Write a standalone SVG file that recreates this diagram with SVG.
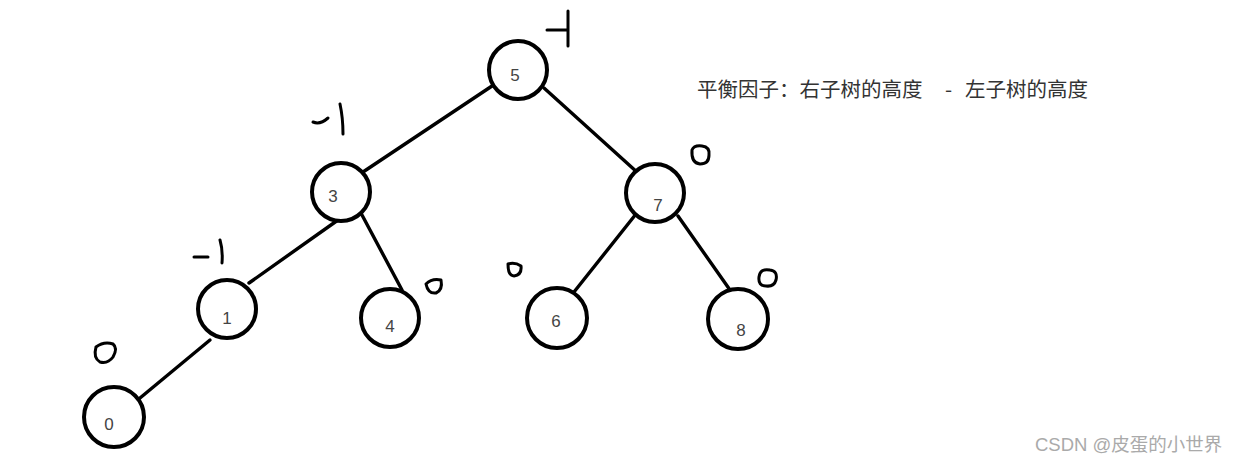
<svg xmlns="http://www.w3.org/2000/svg" width="1241" height="465" viewBox="0 0 1241 465">
<style>
.n circle{fill:#fff;stroke:#000;stroke-width:4}
.n text{font-family:"Liberation Sans","Noto Sans",sans-serif;font-size:17px;fill:#444;text-anchor:middle}
.e line{stroke:#000;stroke-width:3.4;stroke-linecap:round}
.m{fill:none;stroke:#000;stroke-width:3;stroke-linecap:round;stroke-linejoin:round}
.t{font-family:"Noto Sans CJK SC","Noto Sans",sans-serif;font-size:20.5px;fill:#333}
.w{font-family:"Liberation Sans","Noto Sans CJK SC",sans-serif;font-size:18.5px;fill:#aaa}
</style>
<rect width="1241" height="465" fill="#fff"/>
<g id="connectors" class="e">
<line x1="492" y1="86" x2="363" y2="172"/>
<line x1="544" y1="88" x2="638" y2="173"/>
<line x1="338" y1="220" x2="249" y2="283"/>
<line x1="362" y1="215" x2="402" y2="290"/>
<line x1="210" y1="340" x2="140" y2="398"/>
<line x1="636" y1="214" x2="574" y2="292"/>
<line x1="678" y1="216" x2="730" y2="290"/>
</g>
<g id="node5" class="n"><circle cx="518" cy="70" r="29"/><text x="515" y="81">5</text></g>
<g id="node3" class="n"><circle cx="341" cy="192" r="29"/><text x="333" y="202">3</text></g>
<g id="node7" class="n"><circle cx="655" cy="193" r="29"/><text x="658" y="211">7</text></g>
<g id="node1" class="n"><circle cx="227" cy="309" r="29"/><text x="227" y="324">1</text></g>
<g id="node4" class="n"><circle cx="390" cy="318" r="29"/><text x="390" y="332">4</text></g>
<g id="node6" class="n"><circle cx="557" cy="318" r="30"/><text x="556" y="327">6</text></g>
<g id="node8" class="n"><circle cx="738" cy="319" r="30"/><text x="741" y="336">8</text></g>
<g id="node0" class="n"><circle cx="114" cy="417" r="30"/><text x="109" y="430">0</text></g>
<g id="marks">
<path class="m" d="M547 30 L568 30 M568 11 L568 46"/>
<path class="m" d="M313 122 Q320 125 328 118 M340 104 Q343 118 343 134"/>
<path class="m" d="M194 257 L208 257 M220 240 Q223 250 222 263"/>
<path class="m" d="M96 347 Q104 341 113 344 Q118 348 113 357 Q108 364 100 362 Q93 358 96 347 Z"/>
<path class="m" d="M692 150 Q694 145 702 146 Q710 147 709 155 Q709 164 700 164 Q691 163 692 150 Z"/>
<path class="m" d="M426 284 Q432 278 441 280 Q443 290 436 293 Q428 294 426 284 Z"/>
<path class="m" d="M508 264 Q515 262 521 266 Q522 275 514 276 Q508 276 508 264 Z"/>
<path class="m" d="M759 277 Q760 268 770 270 Q778 271 776 280 Q774 287 766 286 Q758 286 759 277 Z"/>
</g>
<text class="t" x="697" y="97">平衡因子：右子树的高度</text>
<text class="t" x="945" y="97">-</text>
<text class="t" x="965" y="97">左子树的高度</text>
<text class="w" x="1035" y="451">CSDN @皮蛋的小世界</text>
</svg>
